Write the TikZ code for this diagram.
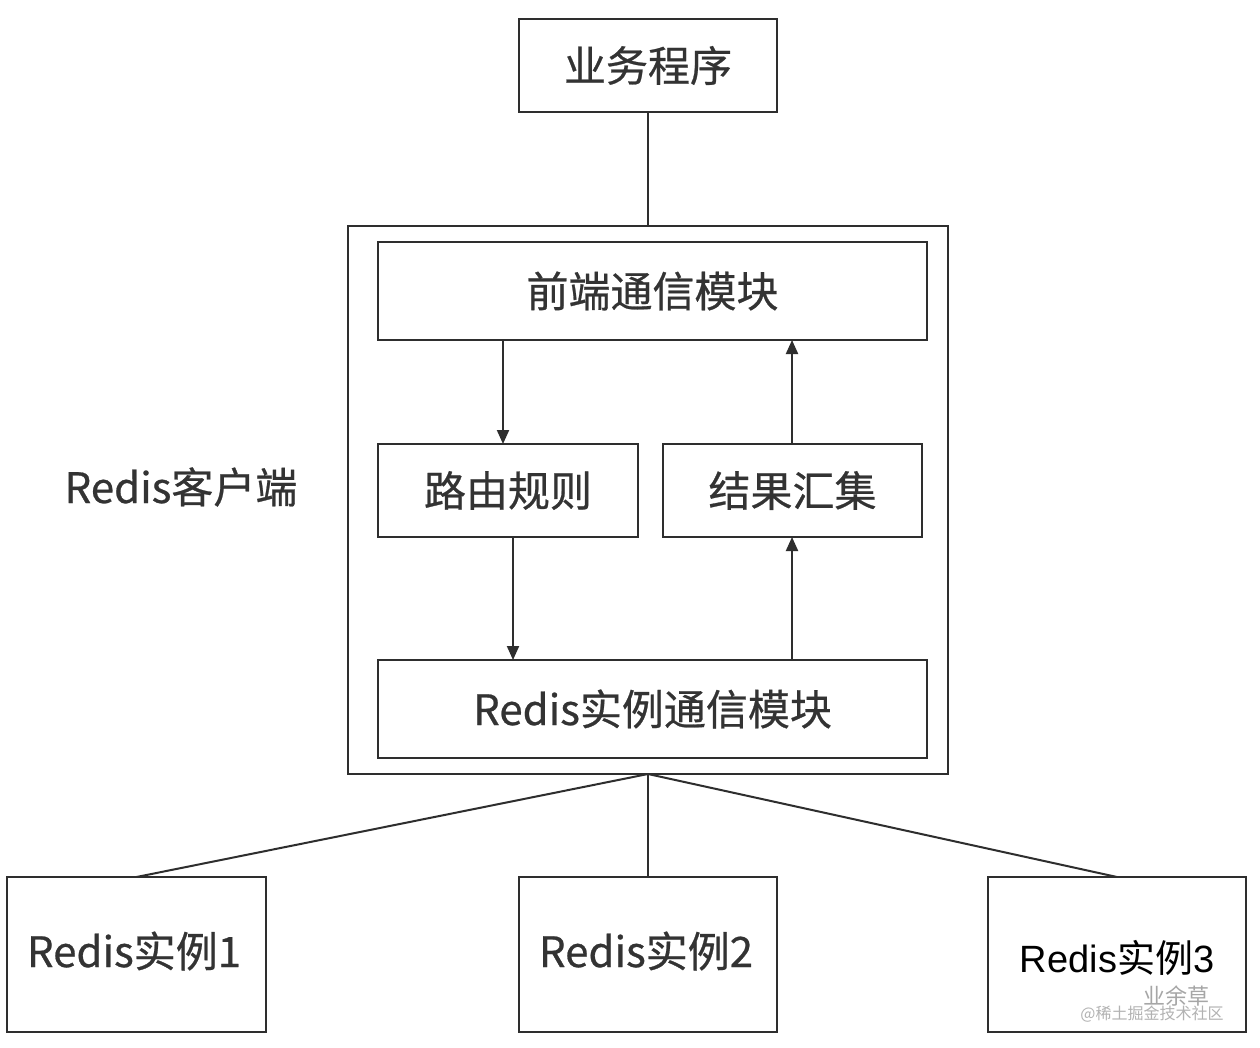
\documentclass[tikz,border=0pt]{standalone}
\usepackage{fontspec}
\setmainfont{Noto Sans CJK SC}[FakeBold=0.6]
\newfontfamily\latinsans{Liberation Sans}
\newfontfamily\cjkplain{Noto Sans CJK SC}
\usetikzlibrary{arrows.meta}
\definecolor{txt}{HTML}{333333}
\definecolor{edge}{HTML}{2E2E2E}
\tikzset{
  box/.style={draw=edge, line width=2.2pt, fill=white, inner sep=0pt, outer sep=0pt},
  lbl/.style={text=txt, font=\fontsize{42}{46}\selectfont},
  conn/.style={draw=edge, line width=2pt},
  arr/.style={conn, -{Triangle[length=14pt,width=12pt]}},
}
\begin{document}
\begin{tikzpicture}[x=1pt,y=-1pt]
\useasboundingbox[fill=white] (0,0) rectangle (1260,1048);
% outer client box
\node[box, line width=2.6pt, minimum width=600pt, minimum height=548pt] (client) at (648,500) {};
% boxes
\node[box, minimum width=258pt, minimum height=93pt] (app) at (648,65.5) {};
\node[lbl] at (app.center) {业务程序};
\node[box, minimum width=549pt, minimum height=98pt] (front) at (652.5,291) {};
\node[lbl] at (front.center) {前端通信模块};
\node[box, minimum width=260pt, minimum height=93pt] (route) at (508,490.5) {};
\node[lbl] at (route.center) {路由规则};
\node[box, minimum width=259pt, minimum height=93pt] (merge) at (792.5,490.5) {};
\node[lbl] at (merge.center) {结果汇集};
\node[box, minimum width=549pt, minimum height=98pt] (inst) at (652.5,709) {};
\node[lbl] at (inst.center) {Redis实例通信模块};
\node[box, minimum width=259pt, minimum height=155pt] (r1) at (136.5,954.5) {};
\node[lbl] at (134,951) {Redis实例1};
\node[box, minimum width=258pt, minimum height=155pt] (r2) at (648,954.5) {};
\node[lbl] at (646,951) {Redis实例2};
\node[box, minimum width=258pt, minimum height=155pt] (r3) at (1117,954.5) {};
\node[text=black, font=\fontsize{38}{42}\selectfont] (r3t) at (1117,958) {\latinsans Redis\cjkplain 实例\latinsans 3};
\node[text=gray!70, font=\fontsize{22}{24}\selectfont\cjkplain] (wm1) at (1176,996) {业余草};
\node[text=gray!60, font=\fontsize{16}{18}\selectfont\cjkplain] (wm2) at (1152,1014) {@稀土掘金技术社区};
% label
\node[lbl] (clientlbl) at (181,487) {Redis客户端};
% connectors
\draw[conn] (app.south) -- (client.north);
\draw[arr] (front.south -| 503,0) -- (route.north -| 503,0);
\draw[arr] (route.south -| 513,0) -- (inst.north -| 513,0);
\draw[arr] (inst.north -| 792,0) -- (merge.south -| 792,0);
\draw[arr] (merge.north -| 792,0) -- (front.south -| 792,0);
\draw[conn] (client.south) -- (r1.north);
\draw[conn] (client.south) -- (r2.north);
\draw[conn] (client.south) -- (r3.north);
\end{tikzpicture}
\end{document}
